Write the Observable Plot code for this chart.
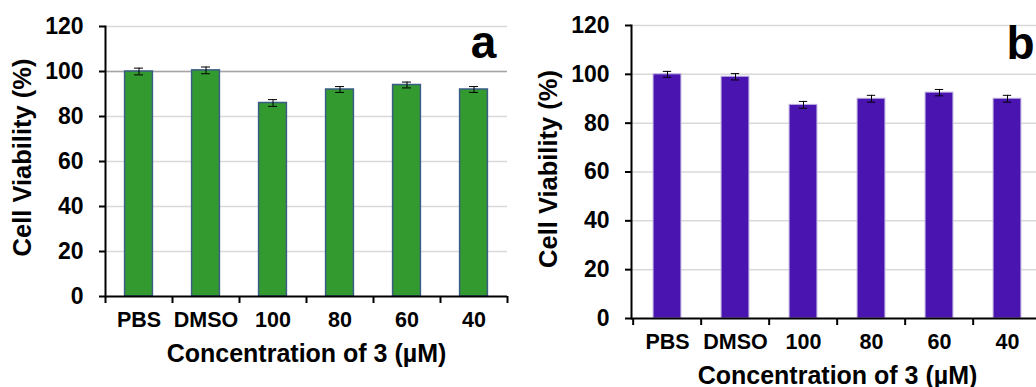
<!DOCTYPE html>
<html>
<head>
<meta charset="utf-8">
<script src="https://cdn.jsdelivr.net/npm/d3@7"></script>
<script src="https://cdn.jsdelivr.net/npm/@observablehq/plot@0.6"></script>
<style>
  html, body { margin: 0; padding: 0; background: #fff; overflow: hidden; width: 1036px; height: 387px; }
  #wrap { position: relative; width: 1036px; height: 387px; overflow: hidden; }
  .panel { position: absolute; top: 0; }
  .panel svg { max-width: none !important; font-family: "Liberation Sans", Arial, sans-serif; }
</style>
</head>
<body>
<div id="wrap">
  <div id="pa" class="panel" style="left:0px;width:510px"></div>
  <div id="pb" class="panel" style="left:520px;width:530px"></div>
</div>
<script>
const categories = ["PBS", "DMSO", "100", "80", "60", "40"];
const viabilityA = [100, 100.5, 86, 92, 94, 92];
const errorA = [1.5, 1.5, 1.5, 1.3, 1.3, 1.3];
const viabilityB = [100, 99, 87.5, 90, 92.5, 90];
const errorB = [1.2, 1.3, 1.4, 1.4, 1.3, 1.4];
const yTicks = [0, 20, 40, 60, 80, 100, 120];
const yLabel = "Cell Viability (%)";
const xLabel = "Concentration of 3 (\u00b5M)";

function panel({values, errors, fill, barStroke, barStrokeWidth, letter, width, height, ml, mr, mt, mb, darkLine, letterDy, letterDx, yTitleDy}) {
  const data = categories.map((c, i) => ({cat: c, v: values[i], e: errors[i]}));
  const step = (width - ml - mr) / categories.length;
  const barW = step * 0.415;
  const inset = (step - barW) / 2;
  const capInset = (step - 9) / 2;
  const marks = [
    Plot.gridY(yTicks.filter(d => d > 0), {stroke: "#d9d9d9", strokeOpacity: 1, strokeWidth: 1.5}),
  ];
  if (darkLine != null) marks.push(Plot.ruleY([darkLine], {stroke: "#a6a6a6", strokeWidth: 1.5}));
  marks.push(
    Plot.barY(data, {x: "cat", y: "v", fill, stroke: barStroke, strokeWidth: barStrokeWidth, insetLeft: inset, insetRight: inset}),
    Plot.ruleX(data, {x: "cat", y1: d => d.v - d.e, y2: d => d.v + d.e, stroke: "#000", strokeWidth: 1}),
    Plot.tickY(data, {x: "cat", y: d => d.v + d.e, stroke: "#000", strokeWidth: 1, insetLeft: capInset, insetRight: capInset}),
    Plot.tickY(data, {x: "cat", y: d => d.v - d.e, stroke: "#000", strokeWidth: 1, insetLeft: capInset, insetRight: capInset}),
    Plot.axisY({ticks: yTicks, tickSize: 6, tickPadding: 16, strokeWidth: 2, fontSize: 23, fontWeight: "bold", label: null, color: "#000"}),
    Plot.axisX({tickSize: 0, tickPadding: 15, fontSize: 21.5, fontWeight: "bold", label: null, color: "#000"}),
    Plot.ruleX(data, {x: "cat", dx: -step / 2, y1: 0, y2: 0, insetBottom: -7, stroke: "#000", strokeWidth: 2}),
    Plot.ruleX([categories[categories.length - 1]], {x: d => d, dx: step / 2, y1: 0, y2: 0, insetBottom: -7, stroke: "#000", strokeWidth: 2}),
    Plot.frame({anchor: "left", stroke: "#000", strokeWidth: 2}),
    Plot.ruleY([0], {stroke: "#000", strokeWidth: 2}),
    Plot.text([xLabel], {frameAnchor: "bottom", textAnchor: "middle", lineAnchor: "middle", dy: 57, fontSize: 25, fontWeight: "bold", fill: "#000"}),
    Plot.text([yLabel], {frameAnchor: "left", textAnchor: "middle", lineAnchor: "middle", rotate: -90, dx: -83, dy: yTitleDy, fontSize: 25.5, fontWeight: "bold", fill: "#000"}),
    Plot.text([letter], {frameAnchor: "top-right", textAnchor: "middle", lineAnchor: "middle", dx: letterDx, dy: letterDy, fontSize: 46, fontWeight: "bold", fill: "#000"})
  );
  return Plot.plot({
    width, height,
    marginLeft: ml, marginRight: mr, marginTop: mt, marginBottom: mb,
    style: {fontFamily: "Liberation Sans, Arial, sans-serif", background: "transparent", color: "#000", overflow: "visible", maxWidth: "none"},
    x: {domain: categories, padding: 0},
    y: {domain: [0, 120]},
    marks
  });
}

document.getElementById("pa").append(panel({
  values: viabilityA, errors: errorA, fill: "#339a2f", barStroke: "#3a5d85", barStrokeWidth: 1.5,
  letter: "a", width: 510, height: 387, ml: 105, mr: 3, mt: 26, mb: 91, darkLine: 100,
  letterDx: -24, letterDy: 17, yTitleDy: -4
}));
document.getElementById("pb").append(panel({
  values: viabilityB, errors: errorB, fill: "#4a14b0", barStroke: "#bcb0e0", barStrokeWidth: 1,
  letter: "b", width: 530, height: 387, ml: 111, mr: 7, mt: 25, mb: 69, darkLine: null,
  letterDx: -23, letterDy: 19, yTitleDy: -3
}));
</script>
</body>
</html>
